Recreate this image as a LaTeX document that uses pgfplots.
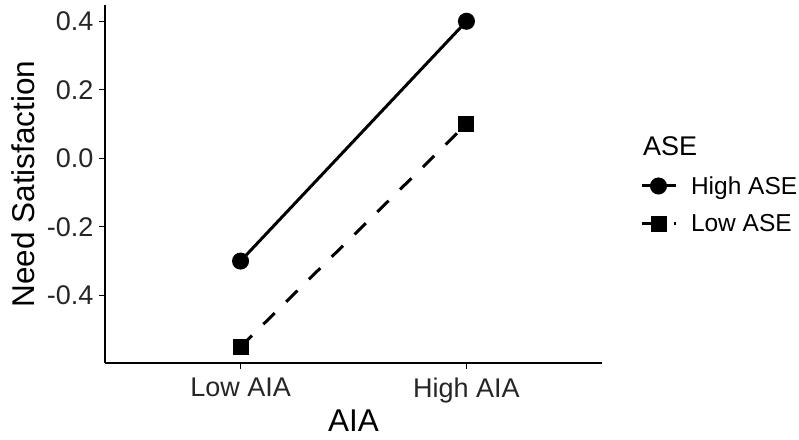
\documentclass[border=0pt]{standalone}
\usepackage{pgfplots}
\pgfplotsset{compat=1.18}
\usepackage{fontspec}
\setmainfont{Liberation Sans}
\begin{document}
\begin{tikzpicture}
\begin{axis}[
  name=ax,
  at={(0,0)}, anchor=south west,
  scale only axis,
  width=497pt, height=358pt,
  xmin=0.4, xmax=2.6,
  ymin=-0.5975, ymax=0.4475,
  axis lines*=left,
  axis line style={line width=1.5pt, -},
  xtick={1,2},
  xticklabels={Low AIA, High AIA},
  ytick={-0.4,-0.2,0,0.2,0.4},
  yticklabels={-0.4,-0.2,0.0,0.2,0.4},
  tick style={line width=1.2pt, black},
  tick align=outside,
  major tick length=6pt,
  ticklabel style={font=\fontsize{27}{32}\selectfont, text=black!85},
  xticklabel style={yshift=-5pt},
  yticklabel style={xshift=-2pt},
  xlabel={AIA}, ylabel={Need Satisfaction},
  label style={font=\fontsize{31.5}{36}\selectfont},
  xlabel style={yshift=0pt},
  ylabel style={yshift=5pt},
  clip=false,
  legend cell align=left,
  legend style={draw=none, fill=none, at={(1.07,0.643)}, anchor=north west,
    font=\fontsize{24.5}{28}\selectfont, row sep=15pt,
    /tikz/every odd column/.append style={column sep=12pt}},
  legend image code/.code={\draw[mark repeat=2,mark phase=2,#1] plot coordinates {(0pt,0pt) (17pt,0pt) (34pt,0pt)};},
]
\addlegendimage{empty legend}
\addlegendentry{\hspace{-48pt}\fontsize{27}{32}\selectfont ASE\rule[-6pt]{0pt}{0pt}}
\addplot[black, line width=3pt, mark=*, mark size=7pt, mark options={solid}] coordinates {(1,-0.3) (2,0.4)};
\addlegendentry{High ASE}
\addplot[black, line width=3pt, dash pattern=on 16pt off 16pt, mark=square*, mark size=6.5pt, mark options={solid}] coordinates {(1,-0.55) (2,0.1)};
\addlegendentry{Low ASE}
\end{axis}
\pgfresetboundingbox
\path (-105pt,-76pt) rectangle (694pt,363pt);
\end{tikzpicture}
\end{document}
